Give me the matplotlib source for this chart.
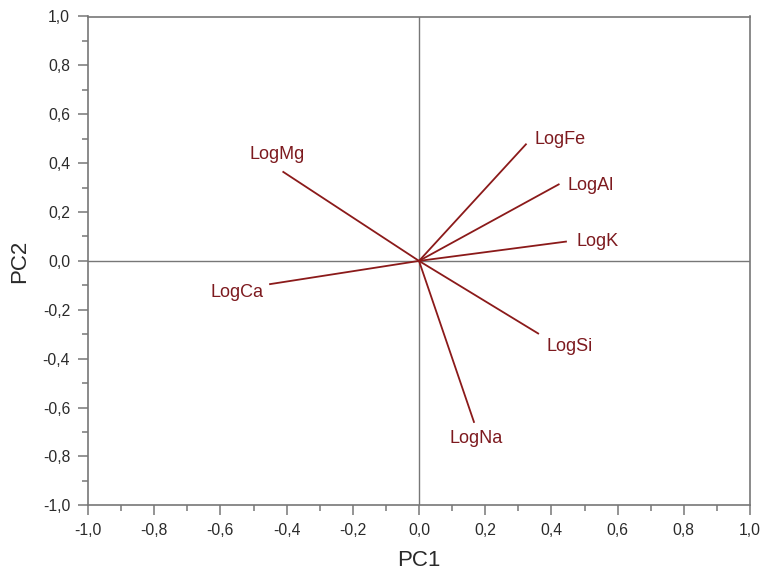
import matplotlib
matplotlib.use("Agg")
import matplotlib.pyplot as plt
from matplotlib.ticker import MultipleLocator, FuncFormatter

variables = ["LogFe", "LogAl", "LogK", "LogSi", "LogNa", "LogCa", "LogMg"]
pc1 = [0.323, 0.422, 0.444, 0.360, 0.166, -0.450, -0.410]
pc2 = [0.477, 0.313, 0.079, -0.297, -0.659, -0.095, 0.364]

# label offsets (pixels) and alignment
offsets = [(9, 5), (9, -1), (11, 0), (8, -13), (-24, -17), (-7, -8), (-6, 17)]
haligns = ["left", "left", "left", "left", "left", "right", "center"]

plt.rcParams['font.family'] = ['Liberation Sans', 'DejaVu Sans']

fig = plt.figure(figsize=(7.64, 5.72), dpi=100)
ax = fig.add_axes([88/764, 1-505.3/572, (750-88)/764, (505.3-16.5)/572])

spine_col = "#777777"
line_col = "#8b1a1a"
text_col = "#7d1a1f"

ax.axhline(0, color=spine_col, lw=1.0, zorder=1)
ax.axvline(0, color=spine_col, lw=1.0, zorder=1)

for name, x, y, off, ha in zip(variables, pc1, pc2, offsets, haligns):
    ax.plot([0, x], [0, y], color=line_col, lw=1.3, zorder=2)
    ax.annotate(name, (x, y), xytext=off, textcoords='offset pixels',
                ha=ha, va='center', color=text_col, fontsize=13)

ax.set_xlim(-1, 1)
ax.set_ylim(-1, 1)
ax.xaxis.set_major_locator(MultipleLocator(0.2))
ax.xaxis.set_minor_locator(MultipleLocator(0.1))
ax.yaxis.set_major_locator(MultipleLocator(0.2))
ax.yaxis.set_minor_locator(MultipleLocator(0.1))
fmt = FuncFormatter(lambda v, p: f"{v:.1f}".replace(".", ",").replace("-0,0", "0,0"))
ax.xaxis.set_major_formatter(fmt)
ax.yaxis.set_major_formatter(fmt)

for s in ax.spines.values():
    s.set_color(spine_col)
    s.set_linewidth(1.2)

ax.tick_params(axis='both', which='major', length=7, width=1.1, color=spine_col,
               labelsize=11.3, labelcolor="#2a2a2a", direction='out')
ax.tick_params(axis='x', which='major', pad=6)
ax.tick_params(axis='y', which='major', pad=5.8)
ax.tick_params(axis='both', which='minor', length=4, width=1.1, color=spine_col,
               direction='out')
ax.tick_params(top=False, right=False, which='both')

ax.set_xlabel("PC1", fontsize=16, color="#2a2a2a", labelpad=8.5)
ax.set_ylabel("PC2", fontsize=16, color="#2a2a2a", labelpad=9)

fig.savefig("out.png", dpi=100)
